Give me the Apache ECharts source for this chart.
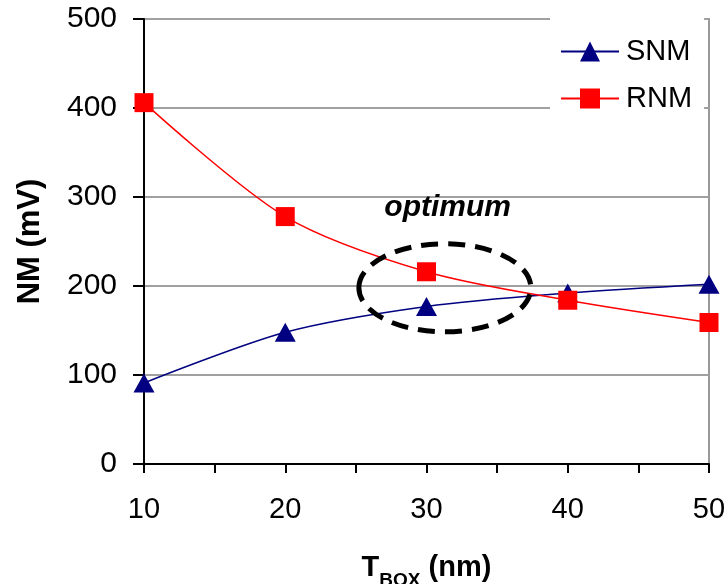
<!DOCTYPE html>
<html>
<head>
<meta charset="utf-8">
<script src="https://cdn.jsdelivr.net/npm/echarts@6/dist/echarts.min.js"></script>
<style>
html, body { margin: 0; padding: 0; background: #fff; }
#chart { width: 727px; height: 584px; }
</style>
</head>
<body>
<div id="chart"></div>
<script>
// data
const tbox = [10, 20, 30, 40, 50];
const snm = [91, 148, 177, 192, 202];
const rnm = [406, 278, 216, 184, 159];
const yTicks = [0, 100, 200, 300, 400, 500];
const xLabels = [10, 20, 30, 40, 50];

// annotation: ellipse centre and label, in data units
const optimumCenter = [31.3, 198];
const optimumText = [31.5, 288];

const font = '"Liberation Sans", Arial, sans-serif';

let chart = echarts.init(document.getElementById('chart'));
let option = {
    animation: false,
    backgroundColor: '#fff',
    grid: {
        left: 144,
        top: 19,
        right: 18,
        bottom: 120,
        outerBoundsMode: 'none',
        containLabel: false,
        show: true,
        borderColor: '#999',
        borderWidth: 2
    },
    legend: {
        orient: 'vertical',
        left: 550,
        top: 18,
        padding: [19, 12, 12, 10],
        backgroundColor: '#fff',
        itemWidth: 58,
        itemHeight: 25,
        itemGap: 18,
        textStyle: { fontFamily: font, fontSize: 29, color: '#000', padding: [0, 0, 0, 2] },
        data: ['SNM', 'RNM']
    },
    xAxis: {
        type: 'value',
        min: 10,
        max: 50,
        interval: 5,
        name: '{t|T}{s|BOX}{t| (nm)}',
        nameLocation: 'middle',
        nameGap: 86,
        nameTextStyle: {
            rich: {
                t: { fontFamily: font, fontSize: 29, fontWeight: 'bold', color: '#000', lineHeight: 32, verticalAlign: 'bottom' },
                s: { fontFamily: font, fontSize: 19, fontWeight: 'bold', color: '#000', lineHeight: 22, verticalAlign: 'bottom', padding: [0, 0, -8, 0] }
            }
        },
        axisLine: { lineStyle: { color: '#000', width: 2 } },
        axisTick: { length: 9, lineStyle: { color: '#000', width: 2 } },
        axisLabel: {
            margin: 31,
            fontFamily: font,
            fontSize: 29,
            color: '#000',
            formatter: v => xLabels.indexOf(v) >= 0 ? String(v) : ''
        },
        splitLine: { show: false }
    },
    yAxis: {
        type: 'value',
        min: yTicks[0],
        max: yTicks[yTicks.length - 1],
        interval: 100,
        name: 'NM (mV)',
        nameLocation: 'middle',
        nameRotate: 90,
        nameGap: 98,
        nameTextStyle: { fontFamily: font, fontSize: 31, fontWeight: 'bold', color: '#000' },
        axisLine: { show: true, lineStyle: { color: '#000', width: 2 } },
        axisTick: { show: true, length: 11, lineStyle: { color: '#000', width: 2 } },
        axisLabel: { margin: 27, fontFamily: font, fontSize: 30, color: '#000' },
        splitLine: { lineStyle: { color: '#a0a0a0', width: 2 } }
    },
    series: [
        {
            name: 'SNM',
            type: 'line',
            smooth: 0.3,
            data: tbox.map((x, i) => [x, snm[i]]),
            symbol: 'triangle',
            symbolSize: [21, 19],
            lineStyle: { color: '#000080', width: 1.5 },
            itemStyle: { color: '#000080' },
            z: 3
        },
        {
            name: 'RNM',
            type: 'line',
            smooth: 0.3,
            data: tbox.map((x, i) => [x, rnm[i]]),
            symbol: 'rect',
            symbolSize: 19,
            lineStyle: { color: '#ff0000', width: 1.5 },
            itemStyle: { color: '#ff0000' },
            z: 4
        }
    ]
};
chart.setOption(option);

// place the dashed ellipse and its label from data coordinates
const c = chart.convertToPixel({ gridIndex: 0 }, optimumCenter);
const t = chart.convertToPixel({ gridIndex: 0 }, optimumText);
chart.setOption({
    graphic: [
        {
            type: 'ellipse',
            shape: { cx: c[0], cy: c[1], rx: 86, ry: 44 },
            style: { fill: 'none', stroke: '#000', lineWidth: 5, lineDash: [17, 10] },
            z: 10
        },
        {
            type: 'text',
            x: t[0],
            y: t[1],
            style: {
                text: 'optimum',
                fontFamily: font,
                fontSize: 30,
                fontWeight: 'bold',
                fontStyle: 'italic',
                fill: '#000',
                align: 'center',
                verticalAlign: 'middle'
            },
            z: 10
        }
    ]
});
</script>
</body>
</html>
